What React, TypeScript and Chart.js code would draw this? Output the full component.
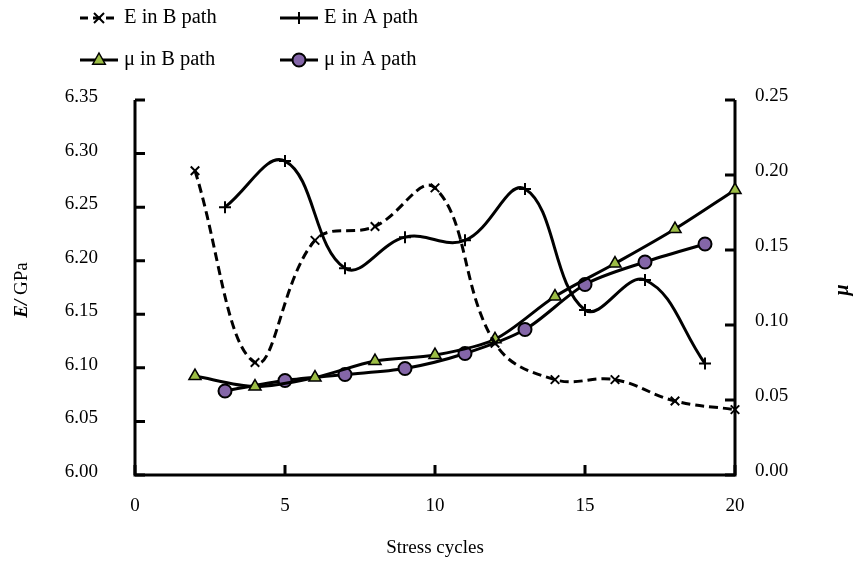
import React, { useEffect, useRef } from 'react';
import { Chart, registerables } from 'chart.js';

Chart.register(...registerables);

// ---- data ----
const xBPath = [2, 4, 6, 8, 10, 12, 14, 16, 18, 20];
const xAPath = [3, 5, 7, 9, 11, 13, 15, 17, 19];
const eBPath = [6.284, 6.105, 6.219, 6.232, 6.268, 6.123, 6.089, 6.089, 6.069, 6.061];
const eAPath = [6.25, 6.293, 6.193, 6.222, 6.219, 6.267, 6.154, 6.182, 6.104];
const muBPath = [0.066, 0.059, 0.065, 0.076, 0.08, 0.0905, 0.119, 0.141, 0.164, 0.19];
const muAPath = [0.056, 0.063, 0.067, 0.071, 0.081, 0.097, 0.127, 0.142, 0.154];
const xTicks = [0, 5, 10, 15, 20];
const eTicks = [6.0, 6.05, 6.1, 6.15, 6.2, 6.25, 6.3, 6.35];
const muTicks = [0, 0.05, 0.1, 0.15, 0.2, 0.25];
const seriesNames = ['E in B path', 'E in A path', '\u03bc in B path', '\u03bc in A path'];
const xTitle = 'Stress cycles';

const FONT = "'Liberation Serif', 'Times New Roman', serif";
const GREEN = '#9cbd45';
const PURPLE = '#8466a8';

function pts(xs: number[], ys: number[]) {
  return xs.map((x, i) => ({ x, y: ys[i] }));
}

function drawMarker(ctx: CanvasRenderingContext2D, kind: string, x: number, y: number) {
  ctx.save();
  ctx.strokeStyle = '#000';
  ctx.setLineDash([]);
  if (kind === 'x') {
    const r = 5;
    ctx.lineWidth = 2;
    ctx.beginPath();
    ctx.moveTo(x - r, y - r); ctx.lineTo(x + r, y + r);
    ctx.moveTo(x - r, y + r); ctx.lineTo(x + r, y - r);
    ctx.stroke();
  } else if (kind === 'plus') {
    const r = 6;
    ctx.lineWidth = 2;
    ctx.beginPath();
    ctx.moveTo(x - r, y); ctx.lineTo(x + r, y);
    ctx.moveTo(x, y - r); ctx.lineTo(x, y + r);
    ctx.stroke();
  } else if (kind === 'tri') {
    const r = 7;
    ctx.lineWidth = 1.5;
    ctx.fillStyle = GREEN;
    ctx.beginPath();
    ctx.moveTo(x, y - r);
    ctx.lineTo(x + r * 0.9, y + r * 0.6);
    ctx.lineTo(x - r * 0.9, y + r * 0.6);
    ctx.closePath();
    ctx.fill();
    ctx.stroke();
  } else {
    ctx.lineWidth = 2;
    ctx.fillStyle = PURPLE;
    ctx.beginPath();
    ctx.arc(x, y, 6.5, 0, Math.PI * 2);
    ctx.fill();
    ctx.stroke();
  }
  ctx.restore();
}

const overlay = {
  id: 'overlay',
  beforeDatasetsDraw(chart: any) {
    const { ctx, chartArea: a, scales } = chart;
    ctx.save();
    ctx.strokeStyle = '#000';
    ctx.lineWidth = 3;
    ctx.lineJoin = 'miter';
    ctx.beginPath();
    ctx.moveTo(a.left, a.top);
    ctx.lineTo(a.left, a.bottom);
    ctx.lineTo(a.right, a.bottom);
    ctx.lineTo(a.right, a.top);
    ctx.stroke();
    const tl = 10;
    ctx.beginPath();
    eTicks.forEach((v) => {
      const y = scales.y.getPixelForValue(v);
      ctx.moveTo(a.left, y); ctx.lineTo(a.left + tl, y);
    });
    muTicks.forEach((v) => {
      const y = scales.y1.getPixelForValue(v);
      ctx.moveTo(a.right, y); ctx.lineTo(a.right - tl, y);
    });
    xTicks.forEach((v) => {
      const x = scales.x.getPixelForValue(v);
      ctx.moveTo(x, a.bottom); ctx.lineTo(x, a.bottom - tl);
    });
    ctx.stroke();
    ctx.restore();
  },
  afterDraw(chart: any) {
    const { ctx } = chart;
    ctx.save();
    ctx.fillStyle = '#000';
    ctx.textBaseline = 'middle';
    ctx.textAlign = 'left';
    // legend
    ctx.font = `20.5px ${FONT}`;
    const entries = [
      { name: seriesNames[0], kind: 'x', dash: true, x0: 80, y: 18 },
      { name: seriesNames[1], kind: 'plus', dash: false, x0: 280, y: 18 },
      { name: seriesNames[2], kind: 'tri', dash: false, x0: 80, y: 60 },
      { name: seriesNames[3], kind: 'circ', dash: false, x0: 280, y: 60 },
    ];
    entries.forEach((e) => {
      ctx.save();
      ctx.strokeStyle = '#000';
      ctx.lineWidth = 3;
      ctx.setLineDash(e.dash ? [8, 5] : []);
      ctx.beginPath();
      ctx.moveTo(e.x0, e.y);
      ctx.lineTo(e.x0 + 38, e.y);
      ctx.stroke();
      ctx.restore();
      drawMarker(ctx, e.kind, e.x0 + 19, e.y);
      ctx.fillText(e.name, e.x0 + 44, e.y);
    });
    // x title
    ctx.font = `19px ${FONT}`;
    ctx.textAlign = 'center';
    ctx.fillText(xTitle, 435, 548);
    // left title
    ctx.save();
    ctx.translate(22, 290);
    ctx.rotate(-Math.PI / 2);
    ctx.textAlign = 'left';
    ctx.font = `bold italic 19px ${FONT}`;
    const p1 = 'E/';
    const w1 = ctx.measureText(p1).width;
    ctx.font = `19px ${FONT}`;
    const p2 = ' GPa';
    const w2 = ctx.measureText(p2).width;
    const start = -(w1 + w2) / 2;
    ctx.font = `bold italic 19px ${FONT}`;
    ctx.fillText(p1, start, 0);
    ctx.font = `19px ${FONT}`;
    ctx.fillText(p2, start + w1, 0);
    ctx.restore();
    // right title
    ctx.save();
    ctx.translate(843, 290);
    ctx.rotate(-Math.PI / 2);
    ctx.textAlign = 'center';
    ctx.font = `bold italic 20px ${FONT}`;
    ctx.fillText('\u03bc', 0, 0);
    ctx.restore();
    ctx.restore();
  },
};

export default function App() {
  const ref = useRef<HTMLCanvasElement | null>(null);
  useEffect(() => {
    if (!ref.current) return;
    const tickFont = { family: FONT, size: 19 };
    const chart = new Chart(ref.current, {
      type: 'line',
      data: {
        datasets: [
          {
            label: seriesNames[0],
            data: pts(xBPath, eBPath),
            yAxisID: 'y',
            borderColor: '#000',
            borderWidth: 3,
            borderDash: [9, 5],
            tension: 0.4,
            pointStyle: 'crossRot',
            pointRadius: 6,
            pointBorderWidth: 2,
            pointBorderColor: '#000',
            clip: false as any,
          },
          {
            label: seriesNames[1],
            data: pts(xAPath, eAPath),
            yAxisID: 'y',
            borderColor: '#000',
            borderWidth: 3,
            tension: 0.4,
            pointStyle: 'cross',
            pointRadius: 6,
            pointBorderWidth: 2,
            pointBorderColor: '#000',
            clip: false as any,
          },
          {
            label: seriesNames[2],
            data: pts(xBPath, muBPath),
            yAxisID: 'y1',
            borderColor: '#000',
            borderWidth: 3,
            tension: 0.3,
            pointStyle: 'triangle',
            pointRadius: 7,
            pointBorderWidth: 1.5,
            pointBorderColor: '#000',
            pointBackgroundColor: GREEN,
            clip: false as any,
          },
          {
            label: seriesNames[3],
            data: pts(xAPath, muAPath),
            yAxisID: 'y1',
            borderColor: '#000',
            borderWidth: 3,
            tension: 0.3,
            pointStyle: 'circle',
            pointRadius: 6.5,
            pointBorderWidth: 2,
            pointBorderColor: '#000',
            pointBackgroundColor: PURPLE,
            clip: false as any,
          },
        ],
      },
      options: {
        animation: false,
        responsive: true,
        maintainAspectRatio: false,
        layout: { padding: { top: 100, left: 0, right: 0, bottom: 0 } },
        plugins: { legend: { display: false }, tooltip: { enabled: false } },
        scales: {
          x: {
            type: 'linear',
            position: 'bottom',
            min: 0,
            max: 20,
            grid: { display: false, drawTicks: false },
            border: { display: false },
            afterBuildTicks: (s: any) => { s.ticks = xTicks.map((v) => ({ value: v })); },
            afterFit: (s: any) => { s.height = 96; },
            ticks: { padding: 20, font: tickFont, color: '#000', maxRotation: 0 },
          },
          y: {
            type: 'linear',
            position: 'left',
            min: 6.0,
            max: 6.35,
            grid: { display: false, drawTicks: false },
            border: { display: false },
            afterBuildTicks: (s: any) => { s.ticks = eTicks.map((v) => ({ value: v })); },
            afterFit: (s: any) => { s.width = 135; },
            ticks: {
              padding: 37,
              labelOffset: -3,
              font: tickFont,
              color: '#000',
              callback: (v: any) => Number(v).toFixed(2),
            },
          },
          y1: {
            type: 'linear',
            position: 'right',
            min: 0,
            max: 0.25,
            grid: { display: false, drawTicks: false },
            border: { display: false },
            afterBuildTicks: (s: any) => { s.ticks = muTicks.map((v) => ({ value: v })); },
            afterFit: (s: any) => { s.width = 123; },
            ticks: {
              padding: 20,
              labelOffset: -4,
              font: tickFont,
              color: '#000',
              callback: (v: any) => Number(v).toFixed(2),
            },
          },
        },
      },
      plugins: [overlay],
    } as any);
    return () => chart.destroy();
  }, []);
  return (
    <div style={{ position: 'absolute', left: 0, top: 0, width: 858, height: 571, background: '#fff' }}>
      <canvas ref={ref} />
    </div>
  );
}
